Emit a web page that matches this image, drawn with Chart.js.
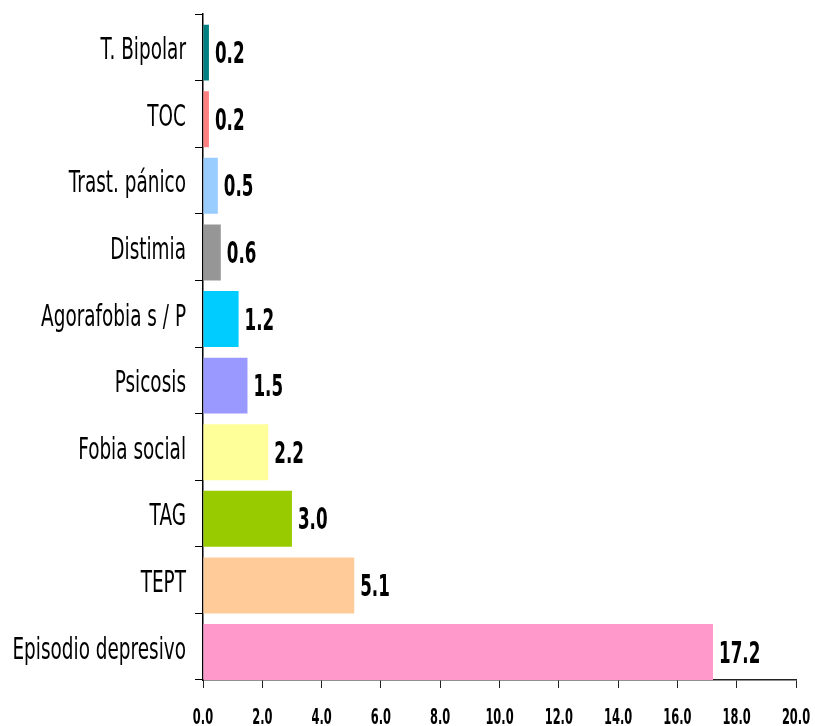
<!DOCTYPE html>
<html>
<head>
<meta charset="utf-8">
<script src="https://cdn.jsdelivr.net/npm/chart.js@4"></script>
<style>
  html, body { margin: 0; padding: 0; background: #fff; }
  #wrap { width: 815px; height: 726px; }
</style>
</head>
<body>
<div id="wrap"><canvas id="chart" width="815" height="726"></canvas></div>
<script>
const categories = ['T. Bipolar', 'TOC', 'Trast. pánico', 'Distimia', 'Agorafobia s / P',
  'Psicosis', 'Fobia social', 'TAG', 'TEPT', 'Episodio depresivo'];
const values = [0.2, 0.2, 0.5, 0.6, 1.2, 1.5, 2.2, 3.0, 5.1, 17.2];
const barColors = ['#008080', '#FF8080', '#99CCFF', '#969696', '#00CCFF',
  '#9999FF', '#FFFF99', '#99CC00', '#FFCC99', '#FF99CC'];
const xTicks = [0, 2, 4, 6, 8, 10, 12, 14, 16, 18, 20];

const catPct = 0.84;
const fontFamily = '"DejaVu Sans", Verdana, sans-serif';

// the original text is a tall, strongly squeezed Tahoma, so draw it with a horizontal scale
function squeezedText(ctx, text, x, y, font, sx, align) {
  ctx.save();
  ctx.translate(x, y);
  ctx.scale(sx, 1);
  ctx.font = font;
  ctx.fillStyle = '#000';
  ctx.textAlign = align;
  ctx.textBaseline = 'alphabetic';
  ctx.fillText(text, 0, 0);
  ctx.restore();
}

// bars sit in the lower part of each band, touching the tick below
function barShift(chart) {
  const band = chart.scales.y.height / categories.length;
  return band * (1 - catPct) / 2;
}

const barOffset = {
  id: 'barOffset',
  beforeDatasetsDraw(chart) {
    chart.ctx.save();
    chart.ctx.translate(0, barShift(chart));
  },
  afterDatasetsDraw(chart) {
    chart.ctx.restore();
  }
};

const textLabels = {
  id: 'textLabels',
  afterDraw(chart) {
    const ctx = chart.ctx;
    const meta = chart.getDatasetMeta(0);
    const shift = barShift(chart);
    const yScale = chart.scales.y;
    const xScale = chart.scales.x;
    meta.data.forEach((bar, i) => {
      const cy = bar.y + shift;
      squeezedText(ctx, values[i].toFixed(1), bar.x + 6, cy + 10.5,
        'bold 31px ' + fontFamily, 0.54, 'left');
      squeezedText(ctx, categories[i], yScale.right - 17, cy + 6.5,
        '31px ' + fontFamily, 0.595, 'right');
    });
    xTicks.forEach(v => {
      squeezedText(ctx, v.toFixed(1), xScale.getPixelForValue(v), xScale.top + 44,
        'bold 22px ' + fontFamily, 0.52, 'center');
    });
  }
};

new Chart(document.getElementById('chart').getContext('2d'), {
  type: 'bar',
  data: {
    labels: categories,
    datasets: [{
      data: values,
      backgroundColor: barColors,
      borderWidth: 0,
      categoryPercentage: catPct,
      barPercentage: 1.0
    }]
  },
  options: {
    indexAxis: 'y',
    responsive: false,
    animation: false,
    layout: { padding: { top: 14, right: 19, left: 0, bottom: 0 } },
    plugins: { legend: { display: false }, tooltip: { enabled: false } },
    scales: {
      x: {
        min: 0,
        max: 20,
        afterBuildTicks: scale => { scale.ticks = xTicks.map(v => ({ value: v })); },
        afterFit: scale => {
          scale.height = 46;
          scale.paddingLeft = 0;
          scale.paddingRight = 0;
        },
        border: { display: true, color: '#222', width: 1.5 },
        grid: { display: true, drawOnChartArea: false, drawTicks: true, tickLength: 8, color: '#222', tickWidth: 1 },
        ticks: { display: false }
      },
      y: {
        afterFit: scale => {
          scale.width = 203;
          scale.paddingTop = 0;
          scale.paddingBottom = 0;
        },
        border: { display: true, color: '#000', width: 1.5 },
        grid: { display: true, drawOnChartArea: false, drawTicks: true, tickLength: 8, color: '#000', tickWidth: 1 },
        ticks: { display: false }
      }
    }
  },
  plugins: [barOffset, textLabels]
});
</script>
</body>
</html>
